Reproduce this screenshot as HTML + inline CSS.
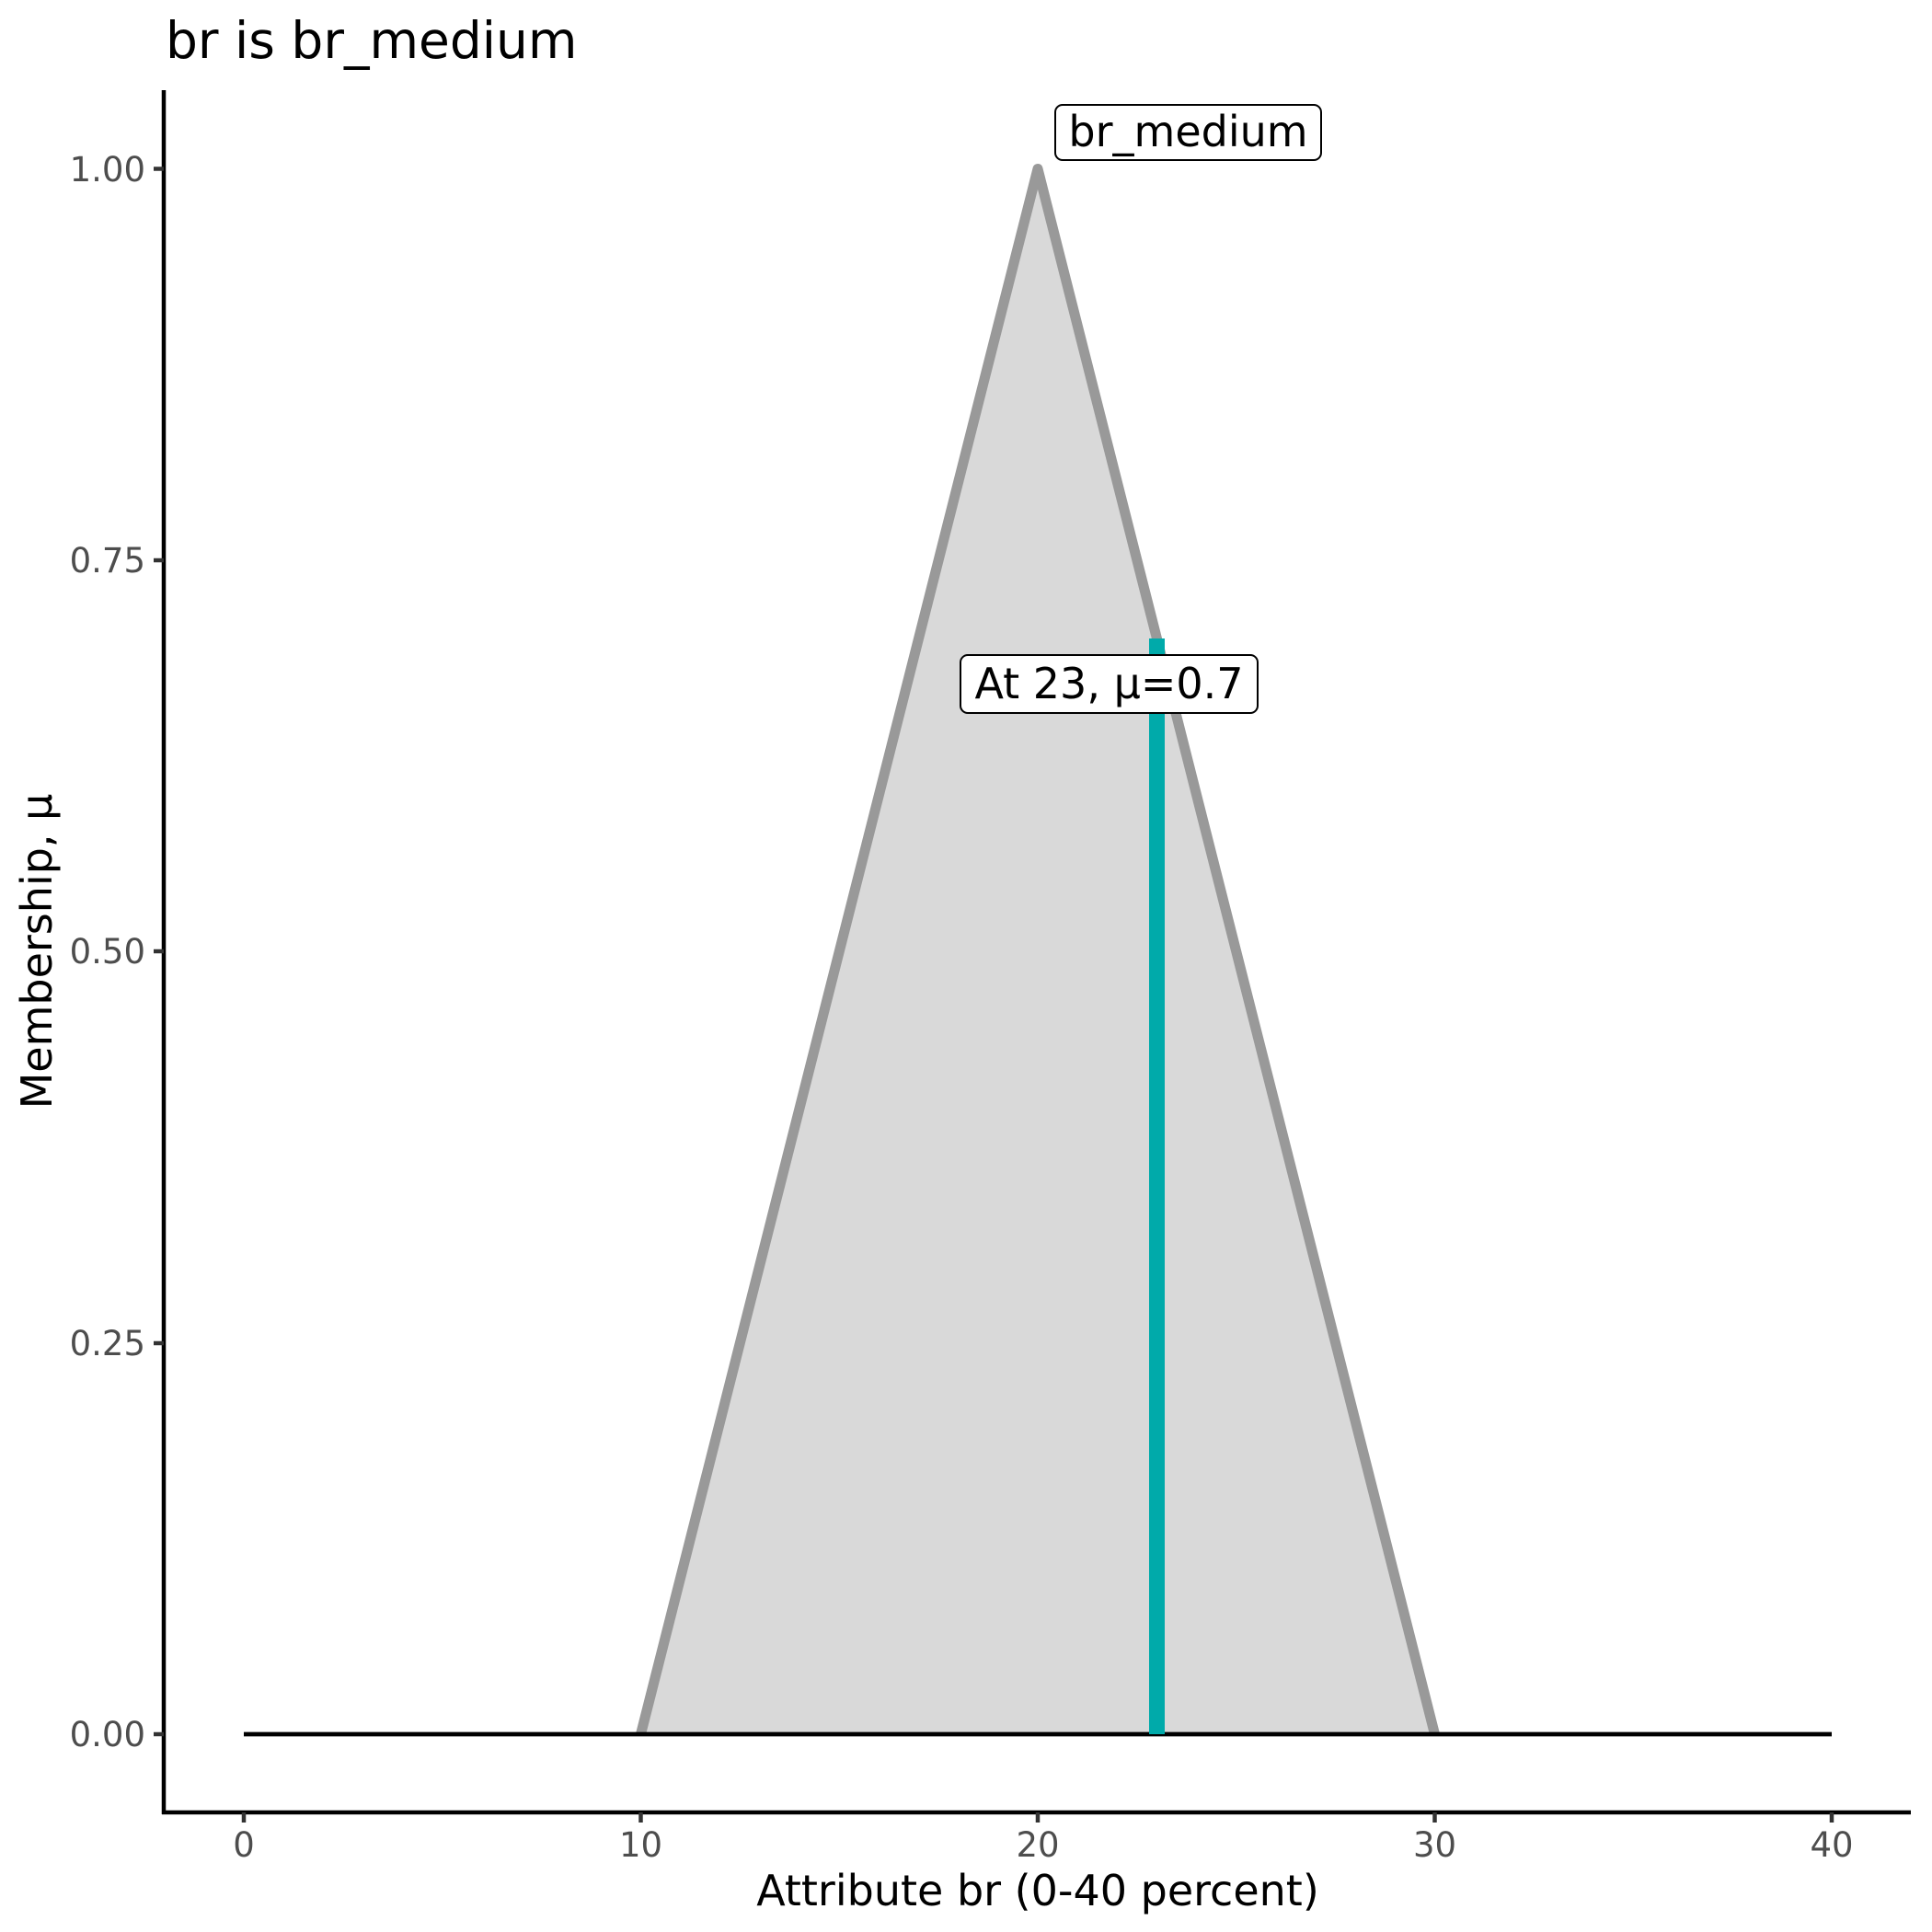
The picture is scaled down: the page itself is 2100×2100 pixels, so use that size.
<!DOCTYPE html>
<html><head><meta charset="utf-8"><style>
html,body{margin:0;padding:0;background:#fff;}
svg{display:block;}
text{font-family:"DejaVu Sans","Liberation Sans",sans-serif;}
</style></head><body>
<svg width="2100" height="2100" viewBox="0 0 2100 2100" xmlns="http://www.w3.org/2000/svg">
<rect width="2100" height="2100" fill="#fff"/>
<text x="180" y="63" font-size="55" fill="#000">br is br_medium</text>
<polygon points="696.5,1885 1128,183.5 1559.5,1885" fill="#d9d9d9"/>
<polyline points="696.5,1885 1128,183.5 1559.5,1885" fill="none" stroke="#999999" stroke-width="11" stroke-linejoin="round"/>
<line x1="265" y1="1885" x2="1991" y2="1885" stroke="#000" stroke-width="4.7"/>
<line x1="1257.5" y1="694" x2="1257.5" y2="1885" stroke="#00aaaa" stroke-width="17"/>
<rect x="1044" y="712" width="323" height="63" rx="8" fill="#fff" stroke="#000" stroke-width="2"/>
<text x="1205.5" y="759" font-size="46" text-anchor="middle" fill="#000">At 23, μ=0.7</text>
<rect x="1147" y="114" width="289" height="60" rx="8" fill="#fff" stroke="#000" stroke-width="2"/>
<text x="1291.5" y="159" font-size="46" text-anchor="middle" fill="#000">br_medium</text>
<line x1="178" y1="98" x2="178" y2="1972" stroke="#000" stroke-width="4.5"/>
<line x1="176" y1="1970" x2="2077" y2="1970" stroke="#000" stroke-width="4.5"/>
<g stroke="#333" stroke-width="4.5">
<line x1="167" y1="183.5" x2="178" y2="183.5"/>
<line x1="167" y1="609" x2="178" y2="609"/>
<line x1="167" y1="1034" x2="178" y2="1034"/>
<line x1="167" y1="1460" x2="178" y2="1460"/>
<line x1="167" y1="1885" x2="178" y2="1885"/>
<line x1="265" y1="1970" x2="265" y2="1981"/>
<line x1="696.5" y1="1970" x2="696.5" y2="1981"/>
<line x1="1128" y1="1970" x2="1128" y2="1981"/>
<line x1="1559.5" y1="1970" x2="1559.5" y2="1981"/>
<line x1="1991" y1="1970" x2="1991" y2="1981"/>
</g>
<g font-size="37" fill="#4d4d4d" text-anchor="end">
<text x="158" y="197">1.00</text>
<text x="158" y="622">0.75</text>
<text x="158" y="1047">0.50</text>
<text x="158" y="1473">0.25</text>
<text x="158" y="1898">0.00</text>
</g>
<g font-size="37" fill="#4d4d4d" text-anchor="middle">
<text x="265" y="2018">0</text>
<text x="696.5" y="2018">10</text>
<text x="1128" y="2018">20</text>
<text x="1559.5" y="2018">30</text>
<text x="1991" y="2018">40</text>
</g>
<text x="1128" y="2071" font-size="46" text-anchor="middle" fill="#000">Attribute br (0-40 percent)</text>
<text transform="translate(56,1034) rotate(-90)" font-size="46" text-anchor="middle" fill="#000">Membership, μ</text>
</svg>
</body></html>
